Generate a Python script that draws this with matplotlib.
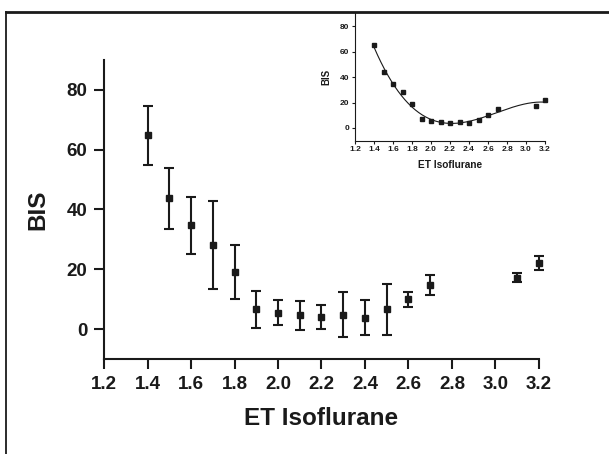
import numpy as np
import matplotlib.pyplot as plt
from matplotlib.lines import Line2D

# ET isoflurane vs BIS, mean +/- SD
et_iso = [1.4, 1.5, 1.6, 1.7, 1.8, 1.9, 2.0, 2.1, 2.2, 2.3, 2.4, 2.5, 2.6, 2.7, 3.1, 3.2]
bis_mean = [64.8, 43.7, 34.7, 28.2, 19.2, 6.7, 5.4, 4.6, 4.0, 4.8, 3.8, 6.6, 9.9, 14.7, 17.2, 22.1]
bis_sd = [9.8, 10.3, 9.6, 14.8, 9.0, 6.2, 4.2, 4.8, 4.0, 7.6, 5.9, 8.6, 2.5, 3.3, 1.6, 2.5]
x_ticks = [1.2, 1.4, 1.6, 1.8, 2.0, 2.2, 2.4, 2.6, 2.8, 3.0, 3.2]
y_ticks = [0, 20, 40, 60, 80]

plt.rcParams['font.family'] = ['Liberation Sans', 'DejaVu Sans']
plt.rcParams['font.weight'] = 'bold'
ink = '#1a1a1a'

fig = plt.figure(figsize=(6.09, 4.54), dpi=100)

# frame around the figure (only top and left edges visible)
fig.add_artist(Line2D([6/609, 6/609], [0, 1-12/454], transform=fig.transFigure, color=ink, lw=1.3))
fig.add_artist(Line2D([6/609, 1], [1-12/454, 1-12/454], transform=fig.transFigure, color=ink, lw=2))

ax = fig.add_axes([0.1708, 0.2093, 0.885-0.1708, 0.8678-0.2093])
eb = ax.errorbar(et_iso, bis_mean, yerr=bis_sd, fmt='s', color=ink, ms=5, lw=1.5,
                 capsize=3.5, capthick=1.5)
for art in eb.lines[1] + eb.lines[2] + (eb.lines[0],):
    art.set_clip_on(False)
ax.set_xlim(1.2, 3.2)
ax.set_ylim(-10, 90)
ax.set_xticks(x_ticks)
ax.set_xticklabels([f'{v:.1f}' for v in x_ticks])
ax.set_yticks(y_ticks)
for s in ['top', 'right']:
    ax.spines[s].set_visible(False)
for s in ['left', 'bottom']:
    ax.spines[s].set_linewidth(1.5)
    ax.spines[s].set_color(ink)
ax.tick_params(length=7, width=1.5, color=ink, labelsize=13.5, pad=5, labelcolor=ink)
ax.set_xlabel('ET Isoflurane', fontsize=17.5, fontweight='bold', color=ink, labelpad=10)
ax.set_ylabel('BIS', fontsize=17.5, fontweight='bold', color=ink, labelpad=12)

# inset with fitted curve
ins = fig.add_axes([0.583, 0.690, 0.895-0.583, 0.9707-0.690])
ins.plot(et_iso, bis_mean, 's', color=ink, ms=2.2, clip_on=False)
coef = np.polyfit(et_iso, bis_mean, 3)
xs = np.linspace(et_iso[0], et_iso[-1], 200)
ins.plot(xs, np.polyval(coef, xs), color=ink, lw=0.8)
ins.set_xlim(1.2, 3.2)
ins.set_ylim(-10, 90)
ins.set_xticks(x_ticks)
ins.set_xticklabels([f'{v:.1f}' for v in x_ticks])
ins.set_yticks(y_ticks)
for s in ['top', 'right']:
    ins.spines[s].set_visible(False)
for s in ['left', 'bottom']:
    ins.spines[s].set_linewidth(0.8)
    ins.spines[s].set_color(ink)
ins.tick_params(length=2, width=0.8, color=ink, labelsize=6, pad=2, labelcolor=ink)
ins.set_xlabel('ET Isoflurane', fontsize=7.3, fontweight='bold', color=ink, labelpad=5)
ins.set_ylabel('BIS', fontsize=7, fontweight='bold', color=ink, labelpad=6)

fig.savefig('out.png', dpi=100)
